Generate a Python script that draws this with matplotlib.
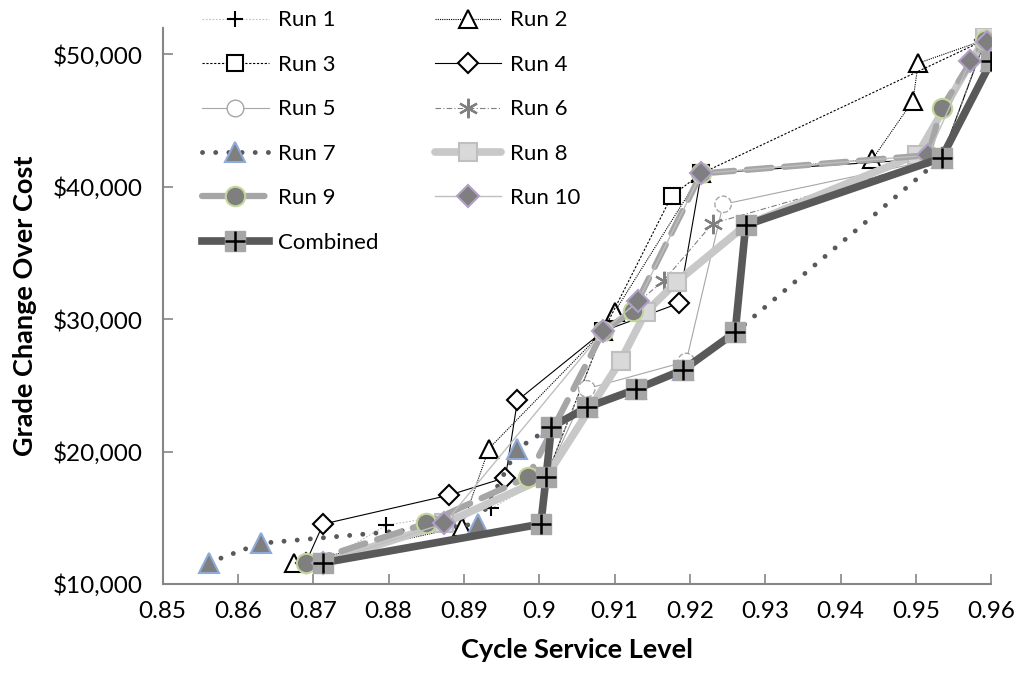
import matplotlib
matplotlib.use("Agg")
import matplotlib.pyplot as plt
from matplotlib.ticker import FuncFormatter
from matplotlib.legend_handler import HandlerTuple

plt.rcParams['font.family'] = ['Lato', 'DejaVu Sans']

# Cycle service level (x) and grade change over cost (y) for each run
run1_x = [0.8713, 0.8797, 0.8936, 0.9009, 0.9063, 0.9129, 0.9191, 0.9260, 0.9274, 0.9534, 0.9600]
run1_y = [11600, 14440, 15700, 18060, 23330, 24720, 26170, 29000, 37100, 42170, 49460]

run2_x = [0.8675, 0.8897, 0.8933, 0.9085, 0.9100, 0.9215, 0.9442, 0.9496, 0.9503, 0.9592]
run2_y = [11560, 14310, 20220, 29100, 30550, 41000, 42060, 46500, 49330, 51100]

run3_x = [0.8713, 0.8874, 0.9009, 0.9085, 0.9176, 0.9215, 0.9592]
run3_y = [11600, 14570, 18060, 29100, 39330, 41000, 51100]

run4_x = [0.8690, 0.8713, 0.8880, 0.8955, 0.8971, 0.9085, 0.9185, 0.9215, 0.9534, 0.9592]
run4_y = [11600, 14520, 16700, 18030, 23860, 29100, 31190, 41000, 42170, 51100]

run5_x = [0.8713, 0.8874, 0.9009, 0.9063, 0.9195, 0.9244, 0.9534, 0.9600]
run5_y = [11600, 14570, 18060, 24740, 26800, 38670, 42170, 49460]

run6_x = [0.8713, 0.8874, 0.9009, 0.9085, 0.9165, 0.9230, 0.9534, 0.9592]
run6_y = [11600, 14570, 18060, 29100, 32900, 37220, 42170, 51100]

run7_x = [0.8561, 0.8630, 0.8918, 0.8971, 0.9016, 0.9063, 0.9129, 0.9191, 0.9260, 0.9534, 0.9600]
run7_y = [11600, 13070, 14520, 20220, 21850, 23330, 24720, 26170, 29000, 42170, 49460]

run8_x = [0.8713, 0.8874, 0.9009, 0.9108, 0.9141, 0.9183, 0.9274, 0.9502, 0.9592]
run8_y = [11600, 14570, 18060, 26870, 30510, 32840, 37100, 42430, 51300]

run9_x = [0.8690, 0.8850, 0.8985, 0.9085, 0.9124, 0.9215, 0.9516, 0.9534, 0.9592]
run9_y = [11600, 14570, 18080, 29100, 30630, 41000, 42380, 45940, 51100]

run10_x = [0.8713, 0.8874, 0.9085, 0.9131, 0.9215, 0.9516, 0.9572, 0.9594]
run10_y = [11600, 14570, 29100, 31340, 41000, 42380, 49500, 50960]

comb_x = [0.8713, 0.9002, 0.9009, 0.9016, 0.9063, 0.9129, 0.9191, 0.9260, 0.9274, 0.9534, 0.9600]
comb_y = [11600, 14520, 18060, 21850, 23330, 24720, 26170, 29000, 37100, 42170, 49460]

x_ticks = [0.85, 0.86, 0.87, 0.88, 0.89, 0.9, 0.91, 0.92, 0.93, 0.94, 0.95, 0.96]
x_tick_labels = ['0.85', '0.86', '0.87', '0.88', '0.89', '0.9', '0.91', '0.92', '0.93', '0.94', '0.95', '0.96']
y_ticks = [10000, 20000, 30000, 40000, 50000]

fig = plt.figure(figsize=(10.23, 6.79), dpi=100)
ax = fig.add_axes([0.159, 0.140, 0.810, 0.819])

h = {}
h['Run 1'], = ax.plot(run1_x, run1_y, color='#bfbfbf', lw=0.8, ls=(0, (1.5, 1.5)),
                      marker='+', ms=12, mec='black', mew=1.5, zorder=3)
h['Run 2'], = ax.plot(run2_x, run2_y, color='black', lw=0.8, ls=(0, (1, 1)),
                      marker='^', ms=12.5, mfc='white', mec='black', mew=1.5, zorder=3)
h['Run 3'], = ax.plot(run3_x, run3_y, color='black', lw=0.8, ls=(0, (2, 1.5)),
                      marker='s', ms=11.5, mfc='white', mec='black', mew=1.5, zorder=3)
h['Run 4'], = ax.plot(run4_x, run4_y, color='black', lw=0.8, ls='-',
                      marker='D', ms=10, mfc='white', mec='black', mew=1.5, zorder=3)

# Run 5: thin gray line with dashed-outline circles
ax.plot(run5_x, run5_y, color='#a6a6a6', lw=0.8, ls='-', zorder=3)
ax.scatter(run5_x, run5_y, s=140, facecolors='white', edgecolors='#a6a6a6',
           linewidths=1.0, linestyles='--', zorder=3.1)
h['Run 5'], = ax.plot([], [], color='#a6a6a6', lw=0.8, ls='-', marker='o', ms=12,
                      mfc='white', mec='#a6a6a6', mew=1.0)

h['Run 6'], = ax.plot(run6_x, run6_y, color='#808080', lw=0.8, ls=(0, (5, 2, 1, 2)),
                      marker=(6, 2, 0), ms=14, mec='#808080', mew=1.6, zorder=3)
h['Run 7'], = ax.plot(run7_x, run7_y, color='#595959', lw=3.5, ls=(0, (0.01, 2.7)),
                      dash_capstyle='round', marker='^', ms=14, mfc='#7f7f7f',
                      mec='#8eaadb', mew=1.5, zorder=4)
h['Run 8'], = ax.plot(run8_x, run8_y, color='#c8c8c8', lw=5.5, ls='-',
                      solid_capstyle='round', marker='s', ms=13.5, mfc='#d9d9d9',
                      mec='#bfbfbf', mew=1.5, zorder=4)
h['Run 9'], = ax.plot(run9_x, run9_y, color='#a6a6a6', lw=4.5, ls=(0, (4, 2)),
                      dash_capstyle='round', marker='o', ms=14, mfc='#7f7f7f',
                      mec='#c4d79b', mew=1.5, zorder=4.1)
h['Run 10'], = ax.plot(run10_x, run10_y, color='#bfbfbf', lw=1.0, ls='-',
                       marker='D', ms=11, mfc='#7f7f7f', mec='#b1a0c7', mew=1.5, zorder=4.2)

comb_line, = ax.plot(comb_x, comb_y, color='#595959', lw=5.5, ls='-',
                     marker='s', ms=14.5, mfc='#a6a6a6', mec='#a6a6a6', mew=1, zorder=5)
comb_plus, = ax.plot(comb_x, comb_y, ls='none', marker='+', ms=14, mec='black',
                     mew=1.8, zorder=5.1)

ax.set_xlim(0.85, 0.96)
ax.set_ylim(10000, 52000)
ax.set_xticks(x_ticks)
ax.set_xticklabels(x_tick_labels)
ax.set_yticks(y_ticks)
ax.yaxis.set_major_formatter(FuncFormatter(lambda v, p: '${:,.0f}'.format(v)))

for s in ['top', 'right']:
    ax.spines[s].set_visible(False)
for s in ['left', 'bottom']:
    ax.spines[s].set_color('#868686')
    ax.spines[s].set_linewidth(1.5)
ax.tick_params(direction='in', length=7, width=1.2, color='#868686',
               labelsize=17.5, labelcolor='black')
ax.tick_params(axis='y', pad=14)
ax.tick_params(axis='x', pad=12)

ax.set_xlabel('Cycle Service Level', fontsize=19.5, fontweight='bold', labelpad=12)
ax.set_ylabel('Grade Change Over Cost', fontsize=19.5, fontweight='bold', labelpad=12)

order = ['Run 1', 'Run 3', 'Run 5', 'Run 7', 'Run 9', 'Combined',
         'Run 2', 'Run 4', 'Run 6', 'Run 8', 'Run 10']
handles = [(comb_line, comb_plus) if k == 'Combined' else h[k] for k in order]
fig.legend(handles, order, loc='upper left', bbox_to_anchor=(0.178, 1.014), ncol=2,
           frameon=False, fontsize=16, handlelength=3.0, columnspacing=2.55,
           labelspacing=1.1, handletextpad=0.4,
           handler_map={tuple: HandlerTuple(ndivide=1)})

fig.savefig('out.png', dpi=100)
